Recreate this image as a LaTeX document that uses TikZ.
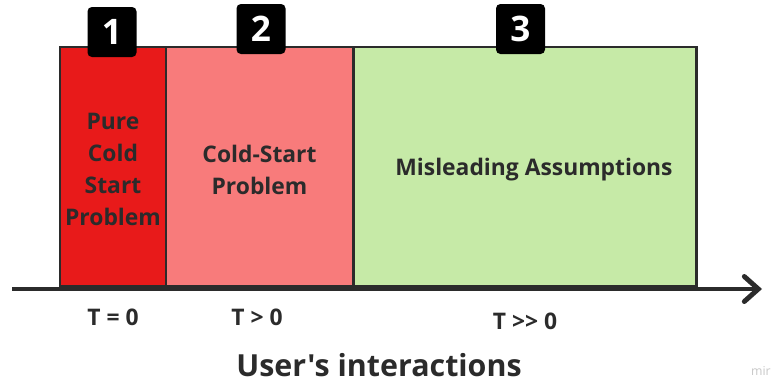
\documentclass[tikz,border=0pt]{standalone}
\usepackage{fontspec}
\setmainfont{Open Sans}[Ligatures=TeXOff]
\usetikzlibrary{arrows.meta}

\definecolor{purered}{HTML}{E81A1A}
\definecolor{coldred}{HTML}{F87B7B}
\definecolor{mislgreen}{HTML}{C6EAA7}
\definecolor{edgegray}{HTML}{2B2B2B}

\begin{document}
\begin{tikzpicture}[
  zone/.style={draw=edgegray, line width=1.7pt, inner sep=0pt, minimum height=4.78cm},
  zonetext/.style={align=center, inner sep=0pt, font=\fontsize{13}{18.2}\selectfont\bfseries, text=edgegray},
  badge/.style={fill=black, rounded corners=2.5pt, minimum width=0.98cm, minimum height=1.0cm,
    text=white, font=\fontsize{20}{20}\selectfont\bfseries, inner sep=0pt},
  tlabel/.style={font=\fontsize{13}{15}\selectfont\bfseries, text=edgegray}
]
\useasboundingbox (0,0) rectangle (15.42,-7.62);

\node[zone, fill=purered, minimum width=2.12cm] (pure) at (2.26,-3.33) {};
\node[zone, fill=coldred, minimum width=3.74cm] (cold) at (5.19,-3.33) {};
\node[zone, fill=mislgreen, minimum width=6.86cm] (misl) at (10.49,-3.33) {};

\node[zonetext] (puretxt) at ([yshift=-1.5pt]pure.center) {Pure\\ Cold\\ Start\\ Problem};
\node[zonetext] (coldtxt) at ([yshift=-2pt]cold.center) {Cold-Start\\ Problem};
\node[zonetext] (misltxt) at ([xshift=5.4pt, yshift=-2pt]misl.center) {Misleading Assumptions};

\node[badge] (b1) at (2.24,-0.64) {1};
\node[badge] (b2) at (5.22,-0.58) {2};
\node[badge] (b3) at (10.41,-0.58) {3};

% time axis
\coordinate (axstart) at (0.24,-5.78);
\coordinate (axend) at (15.24,-5.78);
\draw[edgegray, line width=2.8pt, -{Straight Barb[length=0.28cm, width=0.5cm, line cap=round]}] (axstart) -- (axend);

\node[tlabel] (t0) at (2.26,-6.34) {T = 0};
\node[tlabel] (t1) at (5.14,-6.34) {T > 0};
\node[tlabel] (t2) at (10.5,-6.42) {T >> 0};

\node[font=\fontsize{17.3}{19}\selectfont\bfseries, text=edgegray] (xlab) at (7.58,-7.3) {User's interactions};
\node[font=\fontsize{7}{8}\selectfont, text=black!22, anchor=east, inner sep=0pt] (miro) at (15.42,-7.42) {mir};
\end{tikzpicture}
\end{document}
